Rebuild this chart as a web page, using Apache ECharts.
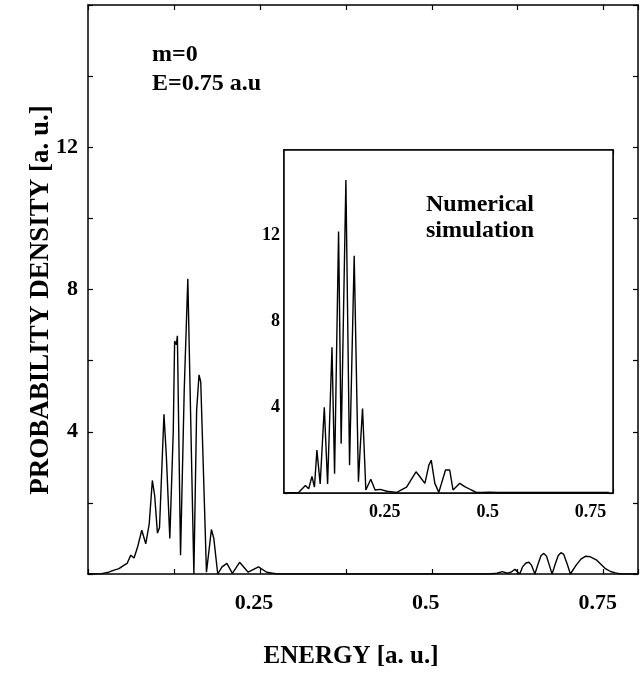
<!DOCTYPE html>
<html>
<head>
<meta charset="utf-8">
<script src="https://cdn.jsdelivr.net/npm/echarts@6/dist/echarts.min.js"></script>
<style>
html,body{margin:0;padding:0;background:#fff;}
#chart{width:643px;height:674px;}
</style>
</head>
<body>
<div id="chart"></div>
<script>
// ---- data ----
const energyMain = [0.000,0.010,0.020,0.030,0.038,0.045,0.0526,0.057,0.0623,0.067,0.072,0.0782,0.084,0.089,0.0936,0.097,0.101,0.104,0.1105,0.114,0.119,0.124,0.126,0.1285,0.130,0.1346,0.140,0.1452,0.154,0.158,0.1615,0.1626,0.164,0.1723,0.1795,0.183,0.1887,0.195,0.202,0.210,0.2205,0.233,0.248,0.260,0.275,0.5835,0.595,0.6027,0.610,0.615,0.621,0.625,0.628,0.632,0.637,0.6414,0.645,0.650,0.655,0.659,0.663,0.667,0.671,0.675,0.680,0.684,0.688,0.692,0.697,0.7017,0.710,0.717,0.724,0.730,0.740,0.752,0.760,0.767,0.775,0.800];
const densityMain = [0,0,0.01,0.05,0.11,0.15,0.25,0.30,0.53,0.45,0.75,1.23,0.85,1.40,2.63,2.20,1.15,1.30,4.49,3.30,1.00,4.00,6.55,6.45,6.70,0.53,5.20,8.30,0.00,4.60,5.60,5.65,5.40,0.05,1.25,1.00,0.00,0.20,0.30,0.02,0.33,0.05,0.20,0.05,0,0,0.02,0.065,0.02,0.05,0.13,0.06,0,0.20,0.31,0.33,0.25,0,0.30,0.52,0.58,0.50,0.25,0,0.30,0.52,0.60,0.55,0.28,0,0.25,0.42,0.50,0.49,0.39,0.16,0.07,0.03,0,0];

const energyInset = [0.000,0.0077,0.036,0.052,0.060,0.068,0.074,0.080,0.088,0.098,0.106,0.1167,0.123,0.1327,0.139,0.1505,0.1594,0.1707,0.181,0.185,0.191,0.195,0.199,0.211,0.2215,0.2337,0.250,0.274,0.298,0.321,0.3305,0.3426,0.3523,0.3580,0.3628,0.3668,0.3765,0.3927,0.403,0.411,0.4274,0.4395,0.4556,0.4677,0.480,0.500,0.520,0.550,0.600,0.650,0.700,0.750,0.790];
const densityInset = [0,0,0.03,0.35,0.20,0.77,0.27,2.00,0.42,4.00,0.42,6.80,0.90,12.20,2.30,14.60,1.30,11.07,0.53,2.00,3.94,3.86,0.14,0.64,0.14,0.17,0.08,0.03,0.27,0.99,0.76,0.45,1.30,1.53,1.53,0.45,0.03,1.07,1.07,0.14,0.45,0.30,0.14,0.03,0.03,0.04,0.02,0.03,0.02,0.03,0.02,0.03,0.02];

const xTickLabels = ['0.25','0.5','0.75'];
const yTickLabels = ['4','8','12'];

const mainData = energyMain.map((e,i)=>[e,densityMain[i]]);
const insetData = energyInset.map((e,i)=>[e,densityInset[i]]);

const FONT = 'Liberation Serif';
function pick(list){
  return function(v){
    const t = list.find(s => Math.abs(parseFloat(s) - v) < 1e-6);
    return t || '';
  };
}
function xAx(grid, pos, showLabel, fs, margin, tickLen, pad){
  return {
    type:'value', gridIndex:grid, position:pos, min:0, max:0.8, interval:0.125,
    axisLine:{show:true, onZero:false, lineStyle:{color:'#000', width:1.5}},
    axisTick:{show:true, inside:true, length:tickLen, lineStyle:{color:'#000', width:1.2}},
    splitLine:{show:false},
    axisLabel:{show:showLabel, formatter:pick(xTickLabels), color:'#000', fontFamily:FONT, fontWeight:'bold', fontSize:fs, margin:margin, padding:pad}
  };
}
function yAx(grid, pos, showLabel, fs, margin, tickLen){
  return {
    type:'value', gridIndex:grid, position:pos, min:0, max:16, interval:2,
    axisLine:{show:true, onZero:false, lineStyle:{color:'#000', width:1.5}},
    axisTick:{show:true, inside:true, length:tickLen, lineStyle:{color:'#000', width:1.2}},
    splitLine:{show:false},
    axisLabel:{show:showLabel, formatter:pick(yTickLabels), color:'#000', fontFamily:FONT, fontWeight:'bold', fontSize:fs, margin:margin}
  };
}

const chart = echarts.init(document.getElementById('chart'), null, {renderer:'canvas'});
chart.setOption({
  animation:false,
  backgroundColor:'#fff',
  grid:[
    {left:88, right:5, top:5, bottom:100, show:false},
    {left:284, top:150, width:329, height:343, show:true, backgroundColor:'#fff', borderColor:'#000', borderWidth:1.5, z:3}
  ],
  xAxis:[
    xAx(0,'bottom',true,22,18,5,[0,12,0,0]),
    xAx(0,'top',false,22,8,5,0),
    xAx(1,'bottom',true,18,10,4,[0,4,0,0]),
    xAx(1,'top',false,18,8,4,0)
  ],
  yAxis:[
    yAx(0,'left',true,22,10,5),
    yAx(0,'right',false,22,8,5),
    yAx(1,'left',true,18,4,4),
    yAx(1,'right',false,18,8,4)
  ],
  series:[
    {type:'line', xAxisIndex:0, yAxisIndex:0, data:mainData, showSymbol:false, lineStyle:{color:'#000', width:1.4}, z:2},
    {type:'line', xAxisIndex:2, yAxisIndex:2, data:insetData, showSymbol:false, lineStyle:{color:'#000', width:1.4}, z:5}
  ],
  graphic:[
    {type:'text', x:41, y:300, rotation:Math.PI/2, style:{text:'PROBABILITY DENSITY [a. u.]', fill:'#000', font:'bold 27px "Liberation Serif"', textAlign:'center', textVerticalAlign:'middle'}},
    {type:'text', x:351, y:657, style:{text:'ENERGY [a. u.]', fill:'#000', font:'bold 25px "Liberation Serif"', textAlign:'center', textVerticalAlign:'middle'}},
    {type:'text', x:152, y:55, style:{text:'m=0', fill:'#000', font:'bold 24px "Liberation Serif"', textAlign:'left', textVerticalAlign:'middle'}},
    {type:'text', x:152, y:84, style:{text:'E=0.75 a.u', fill:'#000', font:'bold 24px "Liberation Serif"', textAlign:'left', textVerticalAlign:'middle'}},
    {type:'text', x:480, y:205, z:10, style:{text:'Numerical', fill:'#000', font:'bold 24px "Liberation Serif"', textAlign:'center', textVerticalAlign:'middle'}},
    {type:'text', x:480, y:231, z:10, style:{text:'simulation', fill:'#000', font:'bold 24px "Liberation Serif"', textAlign:'center', textVerticalAlign:'middle'}}
  ]
});
</script>
</body>
</html>
